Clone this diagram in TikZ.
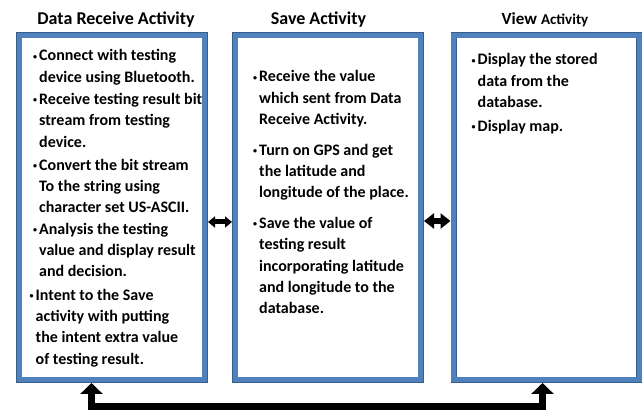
\documentclass[tikz,border=0pt]{standalone}
\usepackage{fontspec}
\setmainfont{Carlito}
\usepackage{tikz}
\usetikzlibrary{calc,arrows.meta}
\definecolor{boxblue}{HTML}{4F81BD}
\definecolor{boxedge}{HTML}{385D8A}
\newcommand{\bul}{\llap{\raisebox{1.8pt}{\fontsize{8}{8}\selectfont\textbullet}\hspace{2pt}}}

\begin{document}
\begin{tikzpicture}[x=1pt,y=1pt,
  actbox/.style={draw=boxedge,line width=0.7pt,double=boxblue,double distance=5pt,fill=white,
    minimum width=185.6pt,minimum height=344.6pt,inner sep=0pt,outer sep=3.2pt},
  acttitle/.style={anchor=base,font=\bfseries\fontsize{18}{20}\selectfont},
  acttext/.style={anchor=north west,align=left,inner sep=0pt,font=\bfseries\fontsize{16}{21.3}\selectfont},
  link/.style={line width=5pt,{Triangle[length=7pt,width=11pt]}-{Triangle[length=7pt,width=11pt]}}]
\useasboundingbox (0,0) rectangle (642,412);
\node[actbox] (recv) at (112,204.5) {};
\node[actbox] (save) at (328,204.5) {};
\node[actbox] (view) at (546.5,204.5) {};
\node[acttitle] (recvtitle) at ([xshift=4pt,yshift=7pt]recv.north) {Data Receive Activity};
\node[acttitle] (savetitle) at ([xshift=-9.5pt,yshift=7pt]save.north) {Save Activity};
\node[acttitle] (viewtitle) at ([xshift=-1.5pt,yshift=7pt]view.north) {{\fontsize{17}{20}\selectfont View} {\fontsize{15}{18}\selectfont Activity}};
\node[acttext] (recvtxt) at ([xshift=23pt,yshift=-17.4pt]recv.north west) {%
  \bul Connect with testing\\ device using Bluetooth.\\[1pt]
  \bul Receive testing result bit\\ stream from testing\\ device.\\[2pt]
  \bul Convert the bit stream\\ To the string using\\ character set US-ASCII.\\
  \bul Analysis the testing\\ value and display result\\ and decision.\\[2pt]
  \kern-3.5pt\bul Intent to the Save\\ \kern-3.5pt activity with putting\\ \kern-3.5pt the intent extra value\\ \kern-3.5pt of testing result.};
\node[acttext] (savetxt) at ([xshift=27pt,yshift=-38.4pt]save.north west) {%
  \bul Receive the value\\ which sent from Data\\ Receive Activity.\\[9.5pt]
  \bul Turn on GPS and get\\ the latitude and\\ longitude of the place.\\[9.5pt]
  \bul Save the value of\\ testing result\\ incorporating latitude\\ and longitude to the\\ database.};
\node[acttext] (viewtxt) at ([xshift=27pt,yshift=-21.4pt]view.north west) {%
  \bul Display the stored\\ data from the\\ database.\\[3pt]
  \bul Display map.};
\draw[link] ([yshift=-14.5pt]recv.east) -- ([yshift=-14.5pt]save.west);
\draw[link,line width=6.5pt,{Triangle[length=10pt,width=15pt]}-{Triangle[length=10pt,width=15pt]}]
  ([yshift=-13.5pt]save.east) -- ([yshift=-13.5pt]view.west);
\draw[line width=7pt,{Triangle[length=11pt,width=22pt]}-{Triangle[length=11pt,width=22pt]}]
  ([xshift=-20.5pt]recv.south) -- ++(0,-23) -| ([xshift=-4pt]view.south);
\end{tikzpicture}
\end{document}
